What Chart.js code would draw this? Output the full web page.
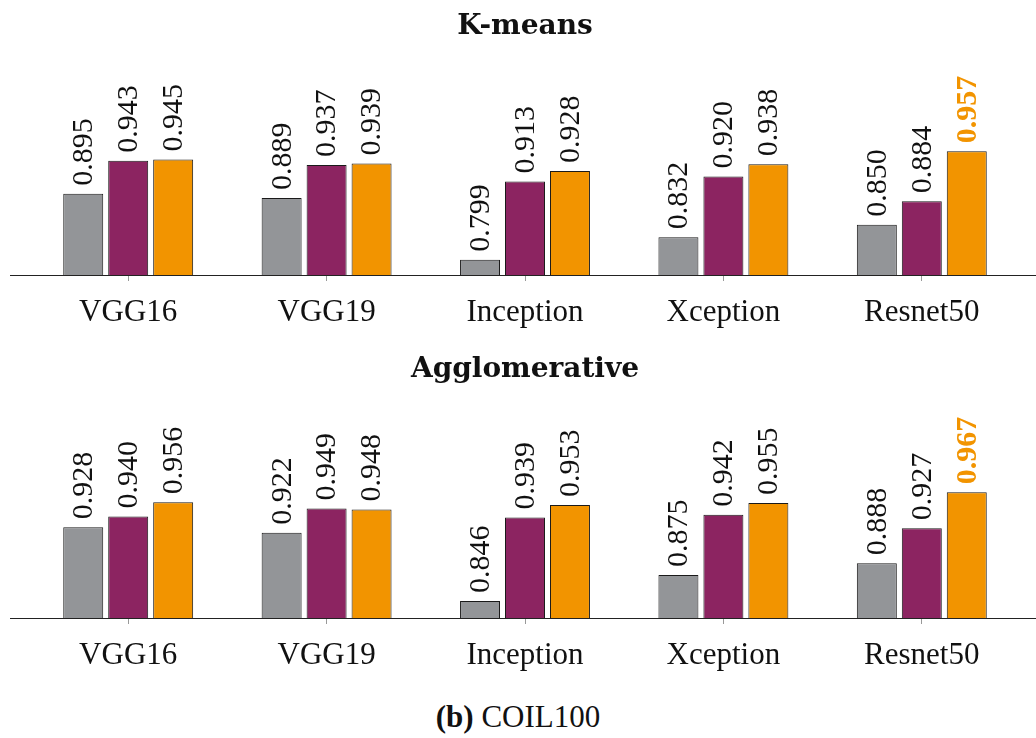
<!DOCTYPE html>
<html>
<head>
<meta charset="utf-8">
<script src="https://cdn.jsdelivr.net/npm/chart.js@4"></script>
<style>
  html, body { margin: 0; padding: 0; background: #fff; }
  body { width: 1036px; height: 738px; position: relative; overflow: hidden; }
  .panel { position: absolute; left: 0; width: 1036px; height: 340px; }
  #caption { position: absolute; left: 0; width: 1036px; top: 699px; text-align: center;
             font-family: "Liberation Serif", serif; font-size: 31px; color: #111; }
</style>
</head>
<body>
<div class="panel" style="top:0"><canvas id="kmeansChart"></canvas></div>
<div class="panel" style="top:343px"><canvas id="aggloChart"></canvas></div>
<div id="caption"><b>(b)</b> COIL100</div>
<script>
var categories = ['VGG16', 'VGG19', 'Inception', 'Xception', 'Resnet50'];
var seriesNames = ['A', 'B', 'C'];
var colors = ['#939598', '#8c2461', '#f29400'];

// K-means
var kmeansA = [0.895, 0.889, 0.799, 0.832, 0.850];
var kmeansB = [0.943, 0.937, 0.913, 0.920, 0.884];
var kmeansC = [0.945, 0.939, 0.928, 0.938, 0.957];

// Agglomerative
var aggloA = [0.928, 0.922, 0.846, 0.875, 0.888];
var aggloB = [0.940, 0.949, 0.939, 0.942, 0.927];
var aggloC = [0.956, 0.948, 0.953, 0.955, 0.967];

var serif = '"Liberation Serif", "Times New Roman", serif';

var baselinePlugin = {
    id: 'baseline',
    afterDatasetsDraw: function (chart) {
        var c = chart.ctx, y = chart.chartArea.bottom;
        c.save();
        c.strokeStyle = '#222';
        c.lineWidth = 1.2;
        c.beginPath();
        c.moveTo(10, y + 0.5);
        c.lineTo(chart.width, y + 0.5);
        c.stroke();
        c.restore();
    }
};

var valueLabels = {
    id: 'valueLabels',
    afterDatasetsDraw: function (chart) {
        var c = chart.ctx;
        var best = -1;
        chart.data.datasets.forEach(function (ds) {
            ds.data.forEach(function (v) { if (v > best) best = v; });
        });
        chart.data.datasets.forEach(function (ds, di) {
            var meta = chart.getDatasetMeta(di);
            meta.data.forEach(function (bar, i) {
                var v = ds.data[i];
                var top = v === best;
                c.save();
                c.translate(bar.x + 1, bar.y - 8);
                c.rotate(-Math.PI / 2);
                c.font = (top ? 'bold ' : '') + '30px ' + serif;
                c.fillStyle = top ? colors[2] : '#111';
                c.textAlign = 'left';
                c.textBaseline = 'middle';
                c.fillText(v.toFixed(3), 0, 0);
                c.restore();
            });
        });
    }
};

function makeChart(id, title, a, b, c, yMin, yMax) {
    var sets = [a, b, c];
    return new Chart(document.getElementById(id), {
        type: 'bar',
        data: {
            labels: categories,
            datasets: sets.map(function (d, i) {
                return {
                    label: seriesNames[i],
                    data: d,
                    backgroundColor: colors[i],
                    borderColor: '#1a1a1a',
                    borderWidth: 1,
                    borderSkipped: 'bottom',
                    categoryPercentage: 0.68,
                    barPercentage: 0.889
                };
            })
        },
        options: {
            responsive: true,
            maintainAspectRatio: false,
            animation: false,
            layout: { padding: { left: 29, right: 15, top: 0, bottom: 0 } },
            plugins: {
                legend: { display: false },
                tooltip: { enabled: false },
                title: {
                    display: true,
                    text: title,
                    color: '#111',
                    font: { family: '"DejaVu Serif", serif', size: 28, weight: 'bold' },
                    padding: { top: 10, bottom: 35.2 }
                }
            },
            scales: {
                x: {
                    grid: { display: true, drawOnChartArea: false, offset: false, tickLength: 6, tickColor: '#999', lineWidth: 1 },
                    border: { display: false },
                    ticks: { color: '#111', padding: 13, font: { family: serif, size: 31 } },
                    afterFit: function (s) { s.height = 65; }
                },
                y: { display: false, min: yMin, max: yMax }
            }
        },
        plugins: [baselinePlugin, valueLabels]
    });
}

makeChart('kmeansChart', 'K-means', kmeansA, kmeansB, kmeansC, 0.777, 1.0621);
makeChart('aggloChart', 'Agglomerative', aggloA, aggloB, aggloC, 0.827, 1.0456);
</script>
</body>
</html>
